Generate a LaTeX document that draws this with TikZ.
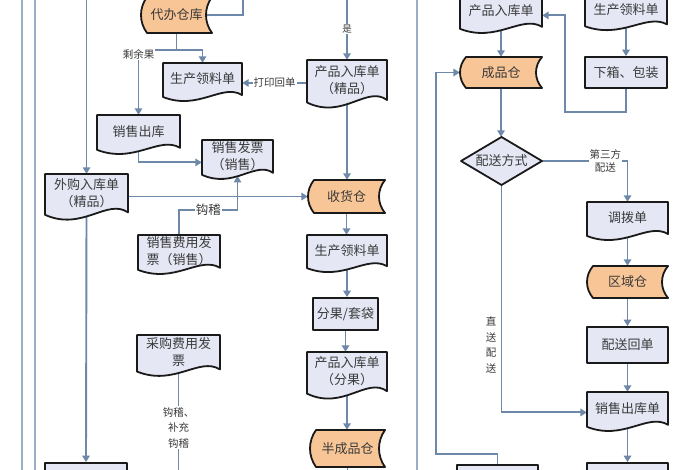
\documentclass[tikz,border=0pt]{standalone}
\usepackage{fontspec}
\newfontfamily\cjk{Noto Sans CJK SC}
\usetikzlibrary{arrows.meta}
\pgfdeclarelayer{background}
\pgfsetlayers{background,main}
\definecolor{conn}{HTML}{6E88AA}
\definecolor{guide}{HTML}{9AAEC7}
\definecolor{docfill}{HTML}{E5E7F5}
\definecolor{storefill}{HTML}{F8C596}
\definecolor{outl}{HTML}{1A1A1A}
\definecolor{txtc}{HTML}{3A3A3A}
\tikzset{
  shapeline/.style={draw=outl, line width=1.8pt, line join=round},
  docsty/.style={shapeline, fill=docfill},
  storesty/.style={shapeline, fill=storefill},
  txt/.style={inner sep=0pt, align=center, text=txtc, font=\cjk\fontsize{13}{17}\selectfont},
  lbl/.style={fill=white, inner sep=1pt, align=center, text=txtc, font=\cjk\fontsize{10.5}{15.5}\selectfont},
  conline/.style={draw=conn, line width=1.9pt},
  arr/.style={conline, -{Triangle[length=6.5pt,width=7.5pt]}},
  guideline/.style={draw=guide, line width=1.7pt},
}
\newcommand\docnode[6]{%
  \pgfmathsetmacro\dAh{(#5)-(#3)}\pgfmathsetmacro\dAw{(#4)-(#2)}\pgfmathsetmacro\dNh{0.8*\dAh}%
  \path[docsty] (#2,#3) -- (#4,#3) -- (#4,#5-0.2*\dAh) .. controls (#4-0.25*\dAw,#5-0.5*\dAh) and (#2+0.45*\dAw,#5+0.2*\dAh) .. (#2,#5-0.15*\dAh) -- cycle;
  \node[txt, minimum width=\dAw pt, minimum height=\dNh pt] (#1) at ({(#2+#4)/2},{#3+0.4*\dAh}) {#6};
}
\newcommand\storenode[6]{%
  \pgfmathsetmacro\dAh{(#5)-(#3)}\pgfmathsetmacro\dAw{(#4)-(#2)}%
  \path[storesty] (#2+6,#3) -- (#4,#3) .. controls (#4-8,#3+0.3*\dAh) and (#4-8,#5-0.3*\dAh) .. (#4,#5) -- (#2+6,#5) .. controls (#2-2,#5-0.3*\dAh) and (#2-2,#3+0.3*\dAh) .. (#2+6,#3) -- cycle;
  \node[txt, minimum width=\dAw pt, minimum height=\dAh pt] (#1) at ({(#2+#4)/2},{(#3+#5)/2}) {#6};
}
\newcommand\rectnode[6]{%
  \pgfmathsetmacro\dAh{(#5)-(#3)}\pgfmathsetmacro\dAw{(#4)-(#2)}%
  \node[txt, shapeline, fill=docfill, minimum width=\dAw pt, minimum height=\dAh pt] (#1) at ({(#2+#4)/2},{(#3+#5)/2}) {#6};
}
\newcommand\diamondnode[6]{%
  \pgfmathsetmacro\dAh{(#5)-(#3)}\pgfmathsetmacro\dAw{(#4)-(#2)}%
  \path[docsty] ({(#2+#4)/2},#3) -- (#4,{(#3+#5)/2}) -- ({(#2+#4)/2},#5) -- (#2,{(#3+#5)/2}) -- cycle;
  \node[txt, minimum width=\dAw pt, minimum height=\dAh pt] (#1) at ({(#2+#4)/2},{(#3+#5)/2}) {#6};
}
\begin{document}
\begin{tikzpicture}[x=1pt,y=-1pt]
\useasboundingbox (0,0) rectangle (700,470);
% ---------- shapes ----------
\storenode{dbk}{141}{-3}{212}{33}{代办仓库}
\docnode{scA}{163}{63}{242}{103}{生产领料单}
\docnode{xsck}{97}{115}{180}{156}{销售出库}
\docnode{xsfp}{202}{140}{273}{181}{销售发票\\（销售）}
\docnode{wgrk}{45}{174}{128}{222}{外购入库单\\（精品）}
\docnode{xsfy}{138}{235}{220}{276}{销售费用发\\票（销售）}
\docnode{cgfy}{137}{335}{220}{378}{采购费用发\\票}
\rectnode{blbox}{45}{463}{127}{495}{}
\docnode{cpA}{307}{60}{387}{110}{产品入库单\\（精品）}
\storenode{shc}{308}{180}{385}{213}{收货仓}
\docnode{scB}{307}{235}{387}{274}{生产领料单}
\rectnode{fgtd}{313}{298}{378}{330}{分果/套袋}
\docnode{cpB}{307}{352}{387}{401}{产品入库单\\（分果）}
\storenode{bcpc}{310}{430}{385}{467}{半成品仓}
\docnode{cpC}{460}{-6}{542}{35}{产品入库单}
\docnode{scC}{585}{-6}{667}{32}{生产领料单}
\rectnode{xxbz}{585}{57}{667}{88}{下箱、包装}
\storenode{cpc}{460}{57}{542}{88}{成品仓}
\diamondnode{psfs}{461}{137}{542}{185}{配送方式}
\docnode{dbd}{587}{202}{668}{242}{调拨单}
\storenode{qyc}{587}{266}{668}{298}{区域仓}
\rectnode{pshd}{587}{327}{668}{363}{配送回单}
\docnode{xsckd}{587}{392}{668}{433}{销售出库单}
\rectnode{brA}{587}{463}{668}{495}{}
\rectnode{bmA}{457}{465}{538}{495}{}
% ---------- connectors ----------
\begin{pgfonlayer}{background}
\fill[white] (0,0) rectangle (700,470);
\draw[guideline] (22,0) -- (22,470);
\draw[guideline] (35,0) -- (35,470);
\draw[guideline] (417,0) -- (417,470);
\coordinate (t1) at (86.5,-2);
\coordinate (t2) at (347,-2);
\coordinate (t3) at (243,-2);
\coordinate (b1) at (178.5,475);
\coordinate (b2) at (347.5,475);
\coordinate (r1) at (565,112);
\coordinate (r2) at (436,454);
% left column
\draw[arr] (t1) -- (wgrk.north);
\draw[arr] (wgrk.south) -- (blbox.north);
\draw[conline] (t3) |- ([xshift=-5pt]dbk.east);
\draw[arr] (dbk.south) -- ++(0,17) coordinate (j1) -| (scA.north);
\draw[arr] (j1) -| (xsck.north);
\node[lbl] at ([yshift=-4pt]xsck.north |- j1) {剩余果};
\draw[arr] ([yshift=-3pt]cpA.west) coordinate (k1) -- node[lbl]{打印回单} (scA.east |- k1);
\draw[arr] (xsck.south) |- ([yshift=-6pt]xsfp.west);
\draw[arr] (wgrk.east |- shc.west) -- (shc.west);
\draw[arr] (xsfy.north) |- node[lbl, pos=0.75, font=\cjk\fontsize{12.5}{15}\selectfont]{钩稽} (xsfp.south |- 0,210) -- ([yshift=-3pt]xsfp.south);
\draw[conline] (cgfy.south) -- node[lbl, pos=0.55]{钩稽、\\补充\\钩稽} (b1);
% middle column
\draw[arr] (t2) -- node[lbl, font=\cjk\fontsize{9.5}{12}\selectfont]{是} (cpA.north);
\draw[arr] (cpA.south) -- (cpA.south |- shc.north);
\draw[arr] (shc.south) -- (shc.south |- scB.north);
\draw[arr] (scB.south) -- (scB.south |- fgtd.north);
\draw[arr] (fgtd.south) -- (fgtd.south |- cpB.north);
\draw[arr] (cpB.south) -- (cpB.south |- bcpc.north);
\draw[conline] (bcpc.south) -- (b2);
% right column
\draw[arr] (cpC.south) -- (cpC.south |- cpc.north);
\draw[arr] (scC.south) -- (scC.south |- xxbz.north);
\draw[arr] (xxbz.south) |- (r1) |- ([yshift=-5pt]cpC.east);
\draw[arr] (bmA.north) |- (r2) |- (cpc.west);
\draw[arr] (cpc.south) -- (cpc.south |- psfs.north);
\draw[arr] (psfs.east) -| node[lbl, pos=0.37, font=\cjk\fontsize{10.5}{13}\selectfont]{第三方\\配送} (dbd.north);
\draw[arr] (dbd.south) -- (dbd.south |- qyc.north);
\draw[arr] (qyc.south) -- (qyc.south |- pshd.north);
\draw[arr] (pshd.south) -- (pshd.south |- xsckd.north);
\draw[arr] (xsckd.south) -- (xsckd.south |- brA.north);
\draw[arr] (psfs.south) |- ([yshift=-4pt]xsckd.west);
\node[lbl, fill=none] (zsps) at (491,345) {直\\送\\配\\送};
\end{pgfonlayer}
\end{tikzpicture}
\end{document}
